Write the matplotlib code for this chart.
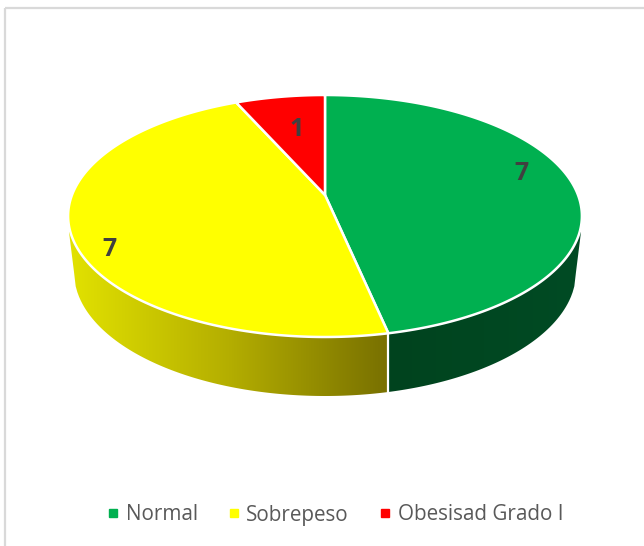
import numpy as np
import matplotlib
matplotlib.use('Agg')
import matplotlib.pyplot as plt
from matplotlib.colors import LinearSegmentedColormap
from matplotlib.lines import Line2D
from matplotlib.patches import Polygon, Rectangle

categories = ['Normal', 'Sobrepeso', 'Obesisad Grado I']
values = [7, 7, 1]
colors = ['#00b050', '#ffff00', '#ff0000']

plt.rcParams['font.family'] = ['Open Sans', 'DejaVu Sans']

# perspective of the top disc, in pixels of the picture
cx, apex_y = 325, 195
a, b, c = -83.5, 253, 0.1736
# lower rim of the side wall
low_y, low_rx, low_ry = 272, 251, 124


def rim(t):
    u, v = np.cos(t), np.sin(t)
    w = 1 + c * v
    return cx + b * u / w, (a * v + apex_y) / w


def low_edge(x):
    return low_y + low_ry * np.sqrt(1 - ((x - cx) / low_rx) ** 2)


def gradient(ax, poly, stops, x0, x1):
    cmap = LinearSegmentedColormap.from_list('side', stops)
    img = ax.imshow(np.linspace(0, 1, 256)[None, :], cmap=cmap, aspect='auto',
                    extent=(x0, x1, 420, 200), zorder=1)
    patch = Polygon(poly, closed=True, transform=ax.transData)
    img.set_clip_path(patch)


fig = plt.figure(figsize=(6.44, 5.46), dpi=100)
ax = fig.add_axes([0, 0, 1, 1])
ax.add_patch(Rectangle((5.5, 7.5), 700, 700, fill=False, ec='#d9d9d9', lw=1.6, zorder=0))

# slice angles, clockwise from the top
fracs = np.array(values) / sum(values)
edges = np.pi / 2 - 2 * np.pi * np.concatenate([[0], np.cumsum(fracs)])

# side wall, split where green meets yellow
split_x, split_y = rim(edges[1])
xs = np.linspace(cx - low_rx, cx + low_rx, 300)
left = xs[xs <= split_x]
right = xs[xs >= split_x]
yellow_poly = [(69, 232)] + list(zip(left, low_edge(left))) + [(split_x, low_edge(split_x)), (split_x, 220)]
green_poly = [(split_x, 220), (split_x, low_edge(split_x))] + list(zip(right, low_edge(right))) + [(581, 232)]
gradient(ax, yellow_poly, ['#e2e200', '#b4ae00', '#787000'], 69, split_x)
gradient(ax, green_poly, ['#00431e', '#004b24'], split_x, 581)
ax.plot([split_x, split_x], [split_y, low_edge(split_x)], color='white', lw=1.6, zorder=2)

# top disc
for i, col in enumerate(colors):
    t = np.linspace(edges[i], edges[i + 1], 200)
    x, y = rim(t)
    ax.fill(np.r_[cx, x], np.r_[apex_y, y], facecolor=col, edgecolor='white',
            lw=1.8, joinstyle='round', zorder=3)

# data labels
label_pos = [(521, 174), (109, 250), (297, 129)]
for val, (lx, ly) in zip(values, label_pos):
    ax.text(lx, ly, str(val), ha='center', va='center', fontsize=18, fontweight='bold',
            color='#404040', zorder=4)

handles = [Line2D([], [], ls='none', marker='s', ms=6.2, mfc=col, mec=col) for col in colors]
ax.legend(handles, categories, loc='center', bbox_to_anchor=(331.5, 515), bbox_transform=ax.transData,
          ncol=3, frameon=False, fontsize=14.9, labelcolor='#595959', handletextpad=-0.05,
          columnspacing=1.1, handlelength=1.3)

ax.set_xlim(0, 644)
ax.set_ylim(546, 0)
ax.axis('off')
fig.savefig('out.png', dpi=100)
